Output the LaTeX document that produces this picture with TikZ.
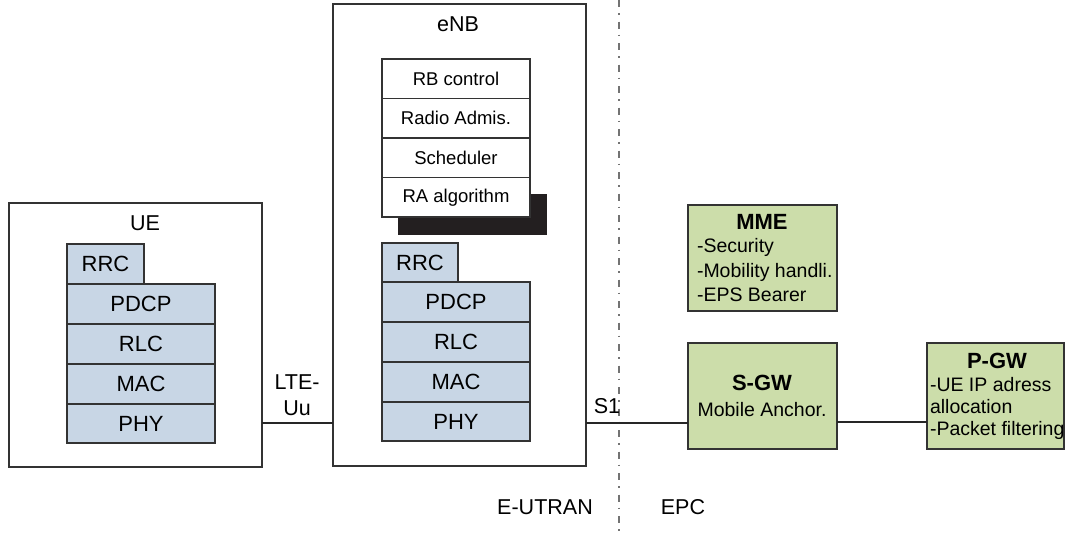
\documentclass[tikz,border=0pt]{standalone}
\usepackage{fontspec}
\setmainfont{Liberation Sans}
\begin{document}
\begin{tikzpicture}[x=1pt,y=-1pt,
  every node/.style={inner sep=0pt,outer sep=0pt,font=\fontsize{22}{26}\selectfont},
  frame/.style={draw=black!80,line width=1.2pt,fill=white,anchor=north west},
  layer/.style={draw=black!80,line width=1.2pt,fill=blueL,anchor=north west,minimum height=40pt},
  ctrl/.style={draw=black!80,line width=1.1pt,fill=white,anchor=north west,minimum width=148pt,minimum height=39.5pt,font=\fontsize{18.5}{21}\selectfont},
  gbox/.style={draw=black!80,line width=1.2pt,fill=greenL,anchor=north west},
  gtitle/.style={font=\fontsize{22}{26}\selectfont\bfseries},
  gtext/.style={font=\fontsize{19.5}{22}\selectfont,anchor=west},
  link/.style={draw=black!85,line width=1.8pt},
  lbl/.style={font=\fontsize{21.5}{25}\selectfont}]
\definecolor{blueL}{RGB}{200,214,229}
\definecolor{greenL}{RGB}{204,221,170}
\definecolor{shadowC}{RGB}{35,31,32}
\useasboundingbox (0,0) rectangle (1065,533);
\fill[white] (0,0) rectangle (1065,533);

% divider
\draw[black!55,line width=1.1pt,dash pattern=on 7pt off 6pt on 1.5pt off 7pt] (619,0) -- (619,533);

% UE
\node[frame,minimum width=253pt,minimum height=264pt] (ue) at (9,203) {};
\node[lbl] (uelbl) at (145,223) {UE};
\node[layer,minimum width=77pt] (uerrc) at (67,244) {RRC};
\node[layer,minimum width=148pt] (uepdcp) at (67,284) {PDCP};
\node[layer,minimum width=148pt] (uerlc) at (67,324) {RLC};
\node[layer,minimum width=148pt] (uemac) at (67,364) {MAC};
\node[layer,minimum width=148pt,minimum height=39pt] (uephy) at (67,404) {PHY};

% eNB
\node[frame,minimum width=253pt,minimum height=462pt] (enb) at (333,4) {};
\node[lbl] (enblbl) at (458,24) {eNB};
\fill[shadowC] (398,194) rectangle (547,235);
\node[ctrl] (rb) at (382,59) {RB control};
\node[ctrl] (ra) at (382,98.5) {Radio Admis.};
\node[ctrl] (sch) at (382,138) {Scheduler};
\node[ctrl] (alg) at (382,177.5) {RA algorithm};
\node[layer,minimum width=76pt,minimum height=39pt] (enbrrc) at (382,243) {RRC};
\node[layer,minimum width=148pt] (enbpdcp) at (382,282) {PDCP};
\node[layer,minimum width=148pt] (enbrlc) at (382,322) {RLC};
\node[layer,minimum width=148pt] (enbmac) at (382,362) {MAC};
\node[layer,minimum width=148pt,minimum height=39pt] (enbphy) at (382,402) {PHY};

% EPC
\node[gbox,minimum width=149pt,minimum height=106pt] (mme) at (688,205) {};
\node[gtitle] (mmet) at (762,222) {MME};
\node[gtext] (mme1) at (697,247) {-Security};
\node[gtext] (mme2) at (697,272) {-Mobility handli.};
\node[gtext] (mme3) at (697,295) {-EPS Bearer};

\node[gbox,minimum width=149pt,minimum height=106pt] (sgw) at (688,343) {};
\node[gtitle] (sgwt) at (762,383) {S-GW};
\node[font=\fontsize{19.5}{22}\selectfont] (sgw1) at (762,410) {Mobile Anchor.};

\node[gbox,minimum width=137pt,minimum height=106pt] (pgw) at (927,343) {};
\node[gtitle] (pgwt) at (997,361) {P-GW};
\node[gtext] (pgw1) at (930,385) {-UE IP adress};
\node[gtext] (pgw2) at (930,407) {allocation};
\node[gtext] (pgw3) at (930,430) {-Packet filtering};

% connectors
\coordinate (uuA) at (262,423);
\coordinate (s1A) at (586,423);
\draw[link] (uuA) -- (uuA -| enb.west);
\draw[link] (s1A) -- (s1A -| sgw.west);
\coordinate (sgA) at (837,422);
\draw[link] (sgA) -- (sgA -| pgw.west);

\node[lbl] (lte) at (297,382) {LTE-};
\node[lbl] (uu) at (297,408) {Uu};
\node[lbl] (s1) at (607,406) {S1};
\node[lbl] (eutran) at (545,507) {E-UTRAN};
\node[lbl] (epc) at (683,507) {EPC};
\end{tikzpicture}
\end{document}
